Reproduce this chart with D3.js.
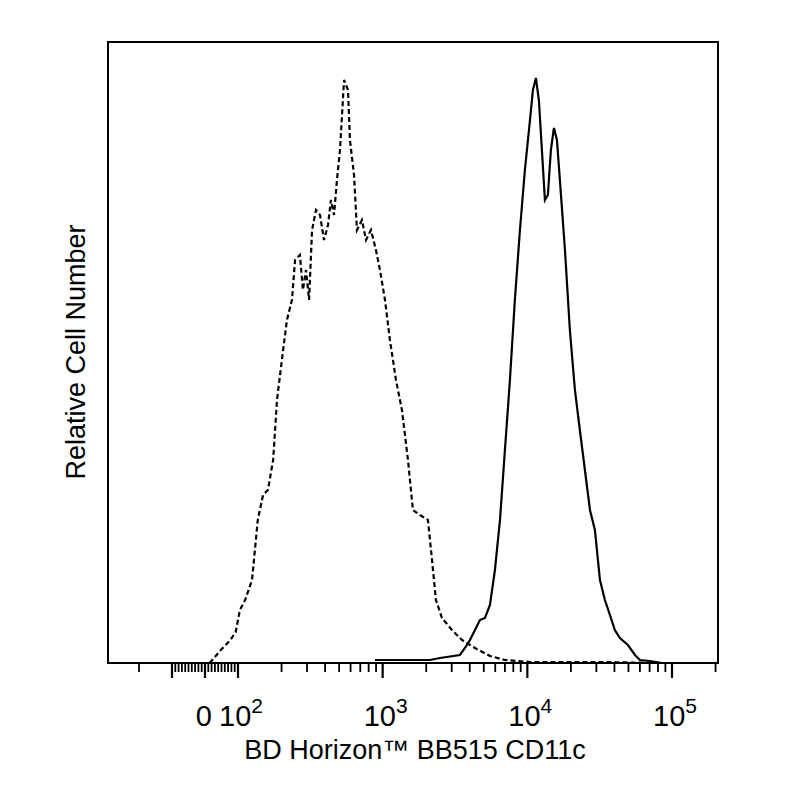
<!DOCTYPE html>
<html><head><meta charset="utf-8">
<script src="https://cdn.jsdelivr.net/npm/d3@7"></script>
<style>body{margin:0;background:#fff}</style>
</head><body>
<svg id="chart" width="800" height="800"></svg>
<script>
// isotype (dashed) and stained (solid) histograms, fluorescence vs count
var isoX = [14,48,77,93,103,112,125,137,149,161,175,186,205,218,236,248,268,281,295,310,325,346,369,393,419,439,461,483,507,541,576,594,634,664,719,767,830,899,958,1038,1122,1236,1359,1496,1618,1811,2056,2193,2335,2570,3013,3531,4345,5516,7000,10430,31770,82400];
var isoY = [0,13,23,31,53,63,83,143,168,173,203,263,313,343,363,403,408,373,393,363,433,453,448,423,438,463,448,483,513,583,573,523,488,433,443,423,433,413,393,363,323,283,253,203,153,148,143,103,63,45,33,23,15,7,3,1,1,0];
var cdX = [885,2122,2489,3420,3706,4011,4345,4700,5093,5516,5970,6470,7000,7580,8200,8890,9620,10430,10930,11460,12020,12610,13230,13870,14550,15270,16020,16790,18200,19680,21330,23070,25000,27100,29310,31770,34360,37240,40270,43650,49550,55460,59980,70310,85140];
var cdY = [3,3,5,8,15,23,33,43,45,58,93,143,213,283,363,433,493,543,573,585,563,513,463,468,513,535,523,483,413,333,273,233,193,153,133,83,63,48,33,25,18,8,3,2,0];
var majorTicks = [-100, 0, 100, 1000, 10000, 100000];
var tickLabels = ["", "0", "10^2", "10^3", "10^4", "10^5"];

var svg = d3.select("#chart");
var pLeft = 108, pRight = 718, pTop = 42, pBottom = 663;
var font = "Liberation Sans, Arial, sans-serif";

// biexponential-like axis: linear around zero, log above 100
var xLin = d3.scaleLinear().domain([-300, 100]).range([106, 238]);
var xLog = d3.scaleLog().domain([100, 100000]).range([238, 672]);
function x(v){ return v < 100 ? xLin(v) : xLog(v); }
var y = d3.scaleLinear().domain([0, 621]).range([pBottom, pTop]);

var minor = [];
[-200,-90,-80,-70,-60,-50,-40,-30,-20,-10,10,20,30,40,50,60,70,80,90].forEach(function(v){ minor.push(v); });
[100,1000,10000,100000].forEach(function(d){
    for (var k = 2; k <= 9; k++) if (d*k <= 200000) minor.push(d*k);
});

svg.append("rect").attr("x", pLeft).attr("y", pTop)
    .attr("width", pRight-pLeft).attr("height", pBottom-pTop)
    .attr("fill", "none").attr("stroke", "#000").attr("stroke-width", 2);

svg.selectAll(".minor").data(minor).enter().append("line")
    .attr("x1", x).attr("x2", x)
    .attr("y1", pBottom).attr("y2", pBottom+9)
    .attr("stroke", "#000").attr("stroke-width", 1.8);
svg.selectAll(".major").data(majorTicks).enter().append("line")
    .attr("x1", x).attr("x2", x)
    .attr("y1", pBottom).attr("y2", pBottom+15)
    .attr("stroke", "#000").attr("stroke-width", 2.2);

majorTicks.forEach(function(v, i){
    var lab = tickLabels[i];
    if (!lab) return;
    var t = svg.append("text").attr("y", 726)
        .attr("font-family", font)
        .attr("font-size", 29).attr("fill", "#000");
    if (lab.indexOf("^") < 0) {
        t.attr("x", x(v) + 7).attr("text-anchor", "end").text(lab);
    } else {
        var p = lab.split("^");
        t.attr("x", x(v) + 3).attr("text-anchor", "middle");
        t.append("tspan").text(p[0]);
        t.append("tspan").attr("dy", -13).attr("font-size", 21).text(p[1]);
    }
});

var line = d3.line()
    .x(function(d){ return x(d[0]); })
    .y(function(d){ return y(d[1]); });

svg.append("path").datum(isoX.map(function(v,i){ return [v, isoY[i]]; }))
    .attr("d", line).attr("fill", "none").attr("stroke", "#000")
    .attr("stroke-width", 2.2).attr("stroke-dasharray", "5,3");
svg.append("path").datum(cdX.map(function(v,i){ return [v, cdY[i]]; }))
    .attr("d", line).attr("fill", "none").attr("stroke", "#000")
    .attr("stroke-width", 2.2);

svg.append("text").attr("x", 415).attr("y", 759).attr("text-anchor", "middle")
    .attr("font-family", font).attr("font-size", 27)
    .text("BD Horizon™ BB515 CD11c");
svg.append("text").attr("transform", "translate(85,352) rotate(-90)").attr("text-anchor", "middle")
    .attr("font-family", font).attr("font-size", 27)
    .text("Relative Cell Number");
</script>
</body></html>
